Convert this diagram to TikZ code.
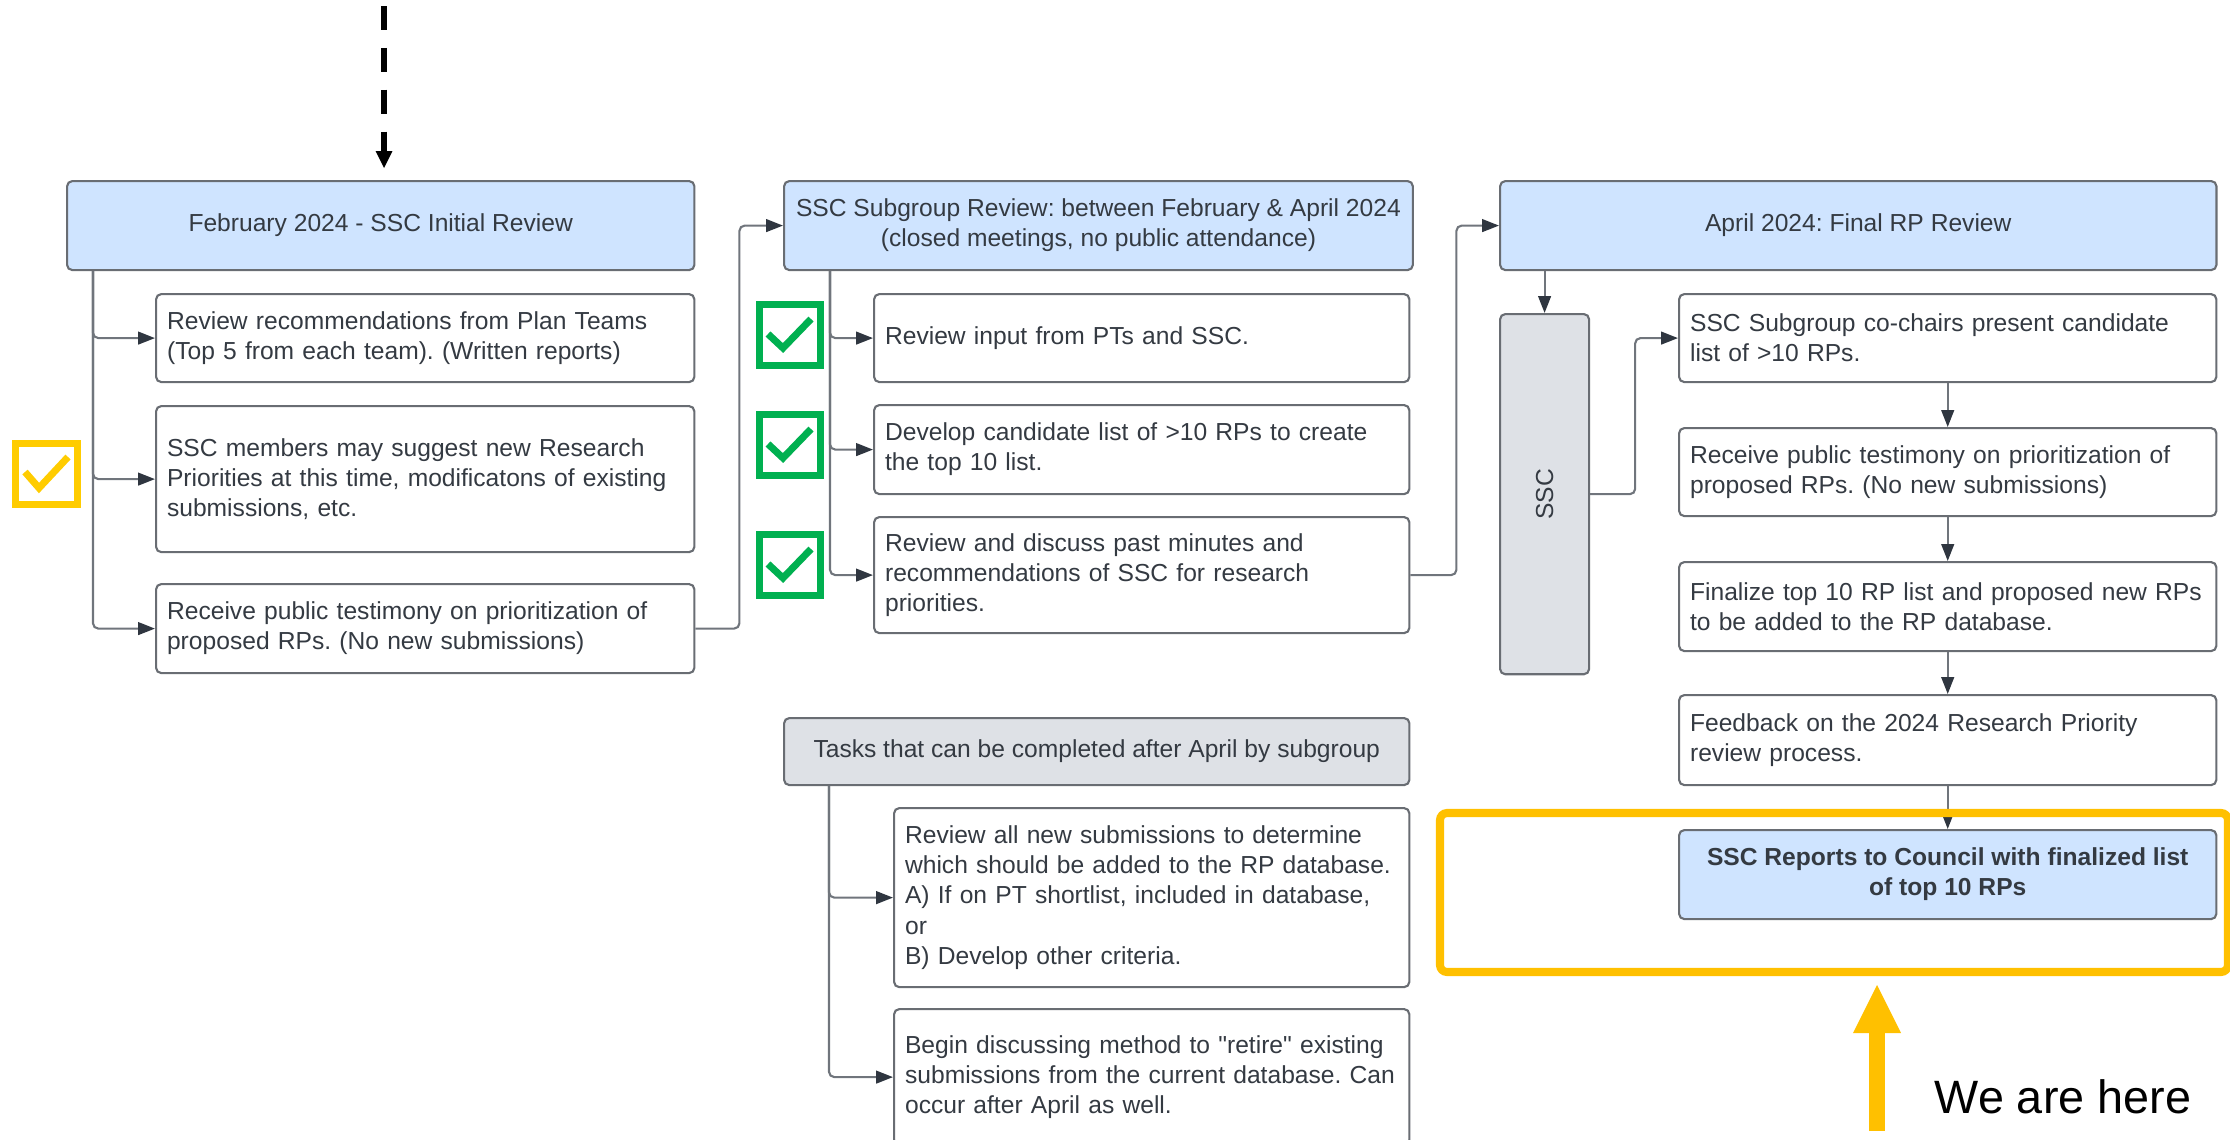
\documentclass[tikz,border=0pt]{standalone}
\usepackage{fontspec}
\setmainfont{Liberation Sans}
\usepackage{graphicx}
\usetikzlibrary{arrows.meta, calc}
\frenchspacing

\definecolor{hdrblue}{RGB}{207,228,255}
\definecolor{ssgrey}{RGB}{222,225,230}
\definecolor{boxline}{RGB}{105,109,115}
\definecolor{linegrey}{RGB}{112,117,124}
\definecolor{tipdark}{RGB}{47,54,64}
\definecolor{txt}{RGB}{52,58,66}
\definecolor{okgreen}{RGB}{0,176,80}
\definecolor{tickyellow}{RGB}{255,204,0}
\definecolor{hlyellow}{RGB}{255,192,0}

\tikzset{
  box/.style={draw=boxline, line width=0.6pt, rounded corners=1.5pt, anchor=north west,
    inner ysep=0pt, inner xsep=0.12cm, text=txt, font=\fontsize{7}{8.55}\selectfont},
  hdr/.style={box, fill=hdrblue, align=center},
  grp/.style={box, fill=ssgrey, align=center},
  item/.style={box, fill=white, align=left, inner xsep=0.11cm},
  itemA/.style={item, minimum width=5.38cm, text width=5.16cm},
  itemB/.style={item, minimum width=5.35cm, text width=5.13cm},
  itemC/.style={item, minimum width=5.37cm, text width=5.15cm},
  itemT/.style={item, minimum width=5.15cm, text width=4.93cm},
  conn/.style={draw=linegrey, line width=0.6pt, rounded corners=1.5pt,
    -{Triangle[length=4.8pt, width=3.6pt, color=tipdark]}},
  tick/.style={line width=2pt},
}

\begin{document}
\begin{tikzpicture}[x=0.01cm, y=-0.01cm]
  \useasboundingbox (0,0) rectangle (2230,1139);

  % Incoming (dashed, from above)
  \coordinate (in0) at (384,6);
  \coordinate (in1) at (384,168);
  \draw[line width=1.7pt, dash pattern=on 6.8pt off 5.1pt,
    -{Triangle[length=4.8pt, width=4.8pt, line width=0pt]}] (in0) -- (in1);

  % February: initial review
  \node[hdr, minimum width=6.27cm, minimum height=0.89cm] (h1) at (66,180) {February 2024 - SSC Initial Review};
  \node[itemA, minimum height=0.88cm] (a1) at (155,293) {Review recommendations from Plan Teams\\(Top 5 from each team). (Written reports)};
  \node[itemA, minimum height=1.46cm] (a2) at (155,405) {SSC members may suggest new Research\\Priorities at this time, modificatons of existing\\submissions, etc.};
  \node[itemA, minimum height=0.89cm] (a3) at (155,583) {Receive public testimony on prioritization of\\proposed RPs. (No new submissions)};
  \foreach \n in {a1,a2,a3} \draw[conn] (h1.south west) ++(27,0) |- (\n.west);

  % Subgroup review
  \node[hdr, minimum width=6.25cm, minimum height=0.89cm] (h2) at (783,180) {SSC Subgroup Review: between February \& April 2024\\(closed meetings, no public attendance)};
  \node[itemB, minimum height=0.88cm] (b1) at (873,293) {Review input from PTs and SSC.};
  \node[itemB, minimum height=0.89cm] (b2) at (873,404) {Develop candidate list of >10 RPs to create\\the top 10 list.};
  \node[itemB, minimum height=1.16cm] (b3) at (873,516) {Review and discuss past minutes and\\recommendations of SSC for research\\priorities.};
  \foreach \n in {b1,b2,b3} \draw[conn] (h2.south west) ++(47,0) |- (\n.west);
  \draw[conn] (a3.east) -- ++(44,0) |- (h2.west);

  % Tasks after April
  \node[grp, minimum width=6.25cm, minimum height=0.67cm] (tk) at (783,717) {Tasks that can be completed after April by subgroup};
  \node[itemT, minimum height=1.79cm] (t1) at (893,807) {Review all new submissions to determine\\which should be added to the RP database.\\A) If on PT shortlist, included in database,\\or\\B) Develop other criteria.};
  \node[itemT, minimum height=1.36cm] (t2) at (893,1008) {Begin discussing method to \textquotedbl retire\textquotedbl{} existing\\submissions from the current database. Can\\occur after April as well.};
  \foreach \n in {t1,t2} \draw[conn] (tk.south west) ++(46,0) |- (\n.west);

  % April: final review
  \node[hdr, minimum width=7.16cm, minimum height=0.89cm] (h3) at (1499,180) {April 2024: Final RP Review};
  \node[grp, minimum width=0.89cm, minimum height=3.6cm] (ssc) at (1499,313) {\rotatebox{90}{SSC}};
  \node[itemC, minimum height=0.88cm] (c1) at (1678,293) {SSC Subgroup co-chairs present candidate\\list of >10 RPs.};
  \node[itemC, minimum height=0.88cm] (c2) at (1678,427) {Receive public testimony on prioritization of\\proposed RPs. (No new submissions)};
  \node[itemC, minimum height=0.89cm] (c3) at (1678,561) {Finalize top 10 RP list and proposed new RPs\\to be added to the RP database.};
  \node[itemC, minimum height=0.90cm] (c4) at (1678,694) {Feedback on the 2024 Research Priority\\review process.};
  \node[hdr, minimum width=5.37cm, minimum height=0.89cm] (fin) at (1678,829) {\textbf{SSC Reports to Council with finalized list}\\\textbf{of top 10 RPs}};
  \draw[conn] (b3.east) -- ++(46,0) |- (h3.west);
  \draw[conn] (h3.south -| ssc.north) -- (ssc.north);
  \draw[conn] (ssc.east) -- ++(45,0) |- (c1.west);
  \foreach \u/\v in {c1/c2, c2/c3, c3/c4, c4/fin} \draw[conn] (\u.south) -- (\v.north);

  % Done marks
  \draw[tick, draw=tickyellow] (15.5,443.5) rectangle (77.5,504.5);
  \draw[tick, draw=tickyellow] (25,472) -- (39,488) -- (68,457);
  \foreach \y in {301,411,531} {
    \draw[tick, draw=okgreen] (759.5,\y+3.5) rectangle (820.5,\y+64.5);
    \draw[tick, draw=okgreen] (768,\y+33) -- (783,\y+47) -- (811,\y+18);
  }

  % Current step
  \draw[hlyellow, line width=2.3pt, rounded corners=2pt] (1440,813) rectangle (2228,972);
  \coordinate (here0) at (1877,1131);
  \coordinate (here1) at (1877,985);
  \draw[hlyellow, line width=4.3pt,
    -{Triangle[length=13.7pt, width=13.7pt, line width=0pt]}] (here0) -- (here1);
  \node[anchor=base west, inner sep=0pt, font=\fontsize{13.3}{16}\selectfont] (here) at (1934,1113) {We are here};
\end{tikzpicture}
\end{document}
